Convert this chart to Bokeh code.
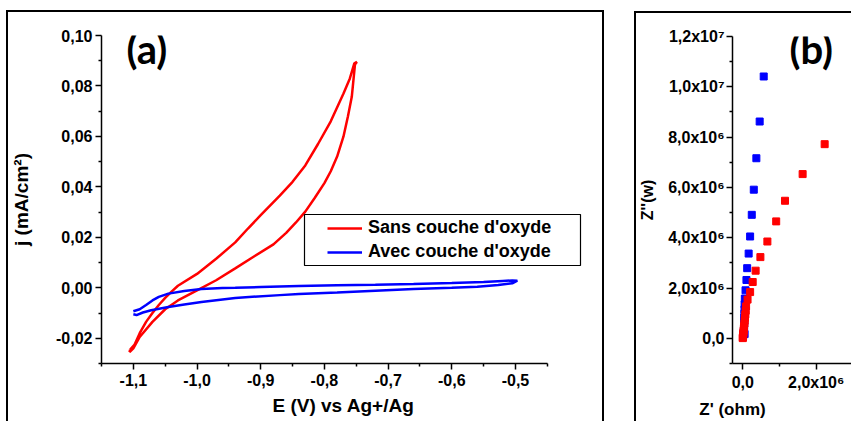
from bokeh.plotting import figure
from bokeh.models import FixedTicker, Legend, LegendItem, Label, BoxAnnotation
from bokeh.layouts import row
from bokeh.embed import file_html
from bokeh.resources import INLINE

# ---------------- Panel (a): voltammograms ----------------
sans_E = [-1.105, -1.098, -1.090, -1.080, -1.070, -1.060, -1.050, -1.040, -1.030, -1.000,
          -0.970, -0.940, -0.920, -0.900, -0.870, -0.850, -0.830, -0.810, -0.790, -0.770,
          -0.760, -0.753, -0.749,
          -0.752, -0.757, -0.763, -0.770, -0.780, -0.790, -0.800, -0.815, -0.830, -0.845,
          -0.860, -0.880, -0.910, -0.940, -0.970, -1.000, -1.030, -1.050, -1.070, -1.090,
          -1.100, -1.106, -1.105]
sans_j = [-0.0245, -0.0225, -0.0180, -0.0135, -0.0100, -0.0068, -0.0040, -0.0015, 0.0008, 0.0055,
          0.0115, 0.0180, 0.0235, 0.0288, 0.0365, 0.0420, 0.0485, 0.0570, 0.0660, 0.0770,
          0.0830, 0.0890, 0.0895,
          0.0885, 0.0757, 0.0680, 0.0600, 0.0520, 0.0462, 0.0415, 0.0357, 0.0302, 0.0258,
          0.0218, 0.0172, 0.0125, 0.0077, 0.0030, -0.0010, -0.0050, -0.0085, -0.0135, -0.0195,
          -0.0240, -0.0255, -0.0245]

avec_E = [-1.100, -1.090, -1.080, -1.070, -1.060, -1.045, -1.020, -0.993, -0.960, -0.940,
          -0.900, -0.840, -0.780, -0.720, -0.660, -0.600, -0.550, -0.520, -0.505, -0.497,
          -0.505, -0.527, -0.560, -0.600, -0.660, -0.720, -0.780, -0.840, -0.870, -0.940,
          -0.993, -1.020, -1.045, -1.072, -1.085, -1.095, -1.100]
avec_j = [-0.0093, -0.0085, -0.0068, -0.0050, -0.0036, -0.0023, -0.0013, -0.0005, -0.0001, 0.0000,
          0.0003, 0.0007, 0.0010, 0.0012, 0.0015, 0.0019, 0.0023, 0.0027, 0.0029, 0.0028,
          0.0018, 0.0011, 0.0004, 0.0000, -0.0005, -0.0012, -0.0019, -0.0025, -0.0029, -0.0040,
          -0.0056, -0.0066, -0.0076, -0.0089, -0.0098, -0.0108, -0.0105]

a_xticks = [-1.1, -1.0, -0.9, -0.8, -0.7, -0.6, -0.5]
a_xlabels = ["-1,1", "-1,0", "-0,9", "-0,8", "-0,7", "-0,6", "-0,5"]
a_xminor = [-1.15, -1.05, -0.95, -0.85, -0.75, -0.65, -0.55, -0.45]
a_yticks = [-0.02, 0.0, 0.02, 0.04, 0.06, 0.08, 0.10]
a_ylabels = ["-0,02", "0,00", "0,02", "0,04", "0,06", "0,08", "0,10"]
a_yminor = [-0.03, -0.01, 0.01, 0.03, 0.05, 0.07, 0.09]

# ---------------- Panel (b): Nyquist ----------------
blue_zr = [0.57e6, 0.46e6, 0.37e6, 0.30e6, 0.245e6, 0.20e6, 0.16e6, 0.12e6, 0.10e6, 0.075e6,
           0.056e6, 0.050e6, 0.047e6, 0.045e6, 0.042e6, 0.040e6, 0.038e6, 0.036e6, 0.034e6,
           0.030e6, 0.028e6, 0.050e6]
blue_zi = [10.41e6, 8.62e6, 7.16e6, 5.91e6, 4.91e6, 4.05e6, 3.37e6, 2.79e6, 2.32e6, 1.91e6,
           1.58e6, 1.35e6, 1.15e6, 0.98e6, 0.83e6, 0.70e6, 0.58e6, 0.47e6, 0.38e6,
           0.30e6, 0.23e6, 0.17e6]
red_zr = [2.23e6, 1.63e6, 1.15e6, 0.91e6, 0.67e6, 0.48e6, 0.35e6, 0.27e6, 0.20e6, 0.13e6,
          0.090e6, 0.080e6, 0.070e6, 0.060e6, 0.050e6, 0.045e6, 0.035e6, 0.030e6, 0.025e6,
          0.020e6, 0.015e6, 0.010e6, 0.008e6, 0.005e6, 0.002e6, 0.000e6]
red_zi = [7.72e6, 6.53e6, 5.47e6, 4.65e6, 3.85e6, 3.23e6, 2.69e6, 2.24e6, 1.84e6, 1.54e6,
          1.27e6, 1.10e6, 0.95e6, 0.82e6, 0.70e6, 0.59e6, 0.49e6, 0.40e6, 0.32e6,
          0.25e6, 0.19e6, 0.14e6, 0.10e6, 0.06e6, 0.03e6, 0.01e6]

b_xticks = [0.0, 2.0e6]
b_xlabels = ["0,0", "2,0x10\u2076"]
b_xminor = [-1.0e6, 1.0e6, 3.0e6]
b_yticks = [0.0, 2.0e6, 4.0e6, 6.0e6, 8.0e6, 1.0e7, 1.2e7]
b_ylabels = ["0,0", "2,0x10\u2076", "4,0x10\u2076", "6,0x10\u2076", "8,0x10\u2076",
             "1,0x10\u2077", "1,2x10\u2077"]
b_yminor = [-1.0e6, 1.0e6, 3.0e6, 5.0e6, 7.0e6, 9.0e6, 1.1e7]

FONT = "Liberation Sans"
RED = "#ff0000"
BLUE = "#0000ff"


def style_axis(ax, ticks, minor, labels, tick_size, label_size, lab_standoff, axlab_standoff):
    ax.ticker = FixedTicker(ticks=ticks, minor_ticks=minor)
    ax.major_label_overrides = dict(zip(ticks, labels))
    ax.axis_line_width = 1.5
    ax.axis_line_color = "black"
    ax.major_tick_line_width = 1.5
    ax.minor_tick_line_width = 1.5
    ax.major_tick_out = 6
    ax.major_tick_in = 0
    ax.minor_tick_out = 3
    ax.minor_tick_in = 0
    ax.major_label_text_font = FONT
    ax.major_label_text_font_style = "bold"
    ax.major_label_text_font_size = tick_size
    ax.major_label_text_color = "black"
    ax.major_label_standoff = lab_standoff
    ax.axis_label_text_font = FONT
    ax.axis_label_text_font_style = "bold"
    ax.axis_label_text_font_size = label_size
    ax.axis_label_text_color = "black"
    ax.axis_label_standoff = axlab_standoff


# ---------- figure (a) ----------
pa = figure(width=598, height=411, x_range=(-1.15, -0.39), y_range=(-0.03, 0.10),
            output_backend="svg", toolbar_location=None,
            min_border_left=90, min_border_right=21, min_border_top=23, min_border_bottom=60)
pa.margin = (10, 0, 0, 6)
pa.styles = {"border-top": "2px solid black", "border-left": "2px solid black",
             "border-right": "2px solid black", "box-sizing": "border-box"}
pa.outline_line_color = None
pa.xgrid.visible = False
pa.ygrid.visible = False

r_sans = pa.line(sans_E, sans_j, line_color=RED, line_width=2.5)
r_avec = pa.line(avec_E, avec_j, line_color=BLUE, line_width=2.5)

pa.xaxis.axis_label = "E (V) vs Ag+/Ag"
pa.yaxis.axis_label = "j (mA/cm\u00b2)"
style_axis(pa.xaxis[0], a_xticks, a_xminor, a_xlabels, "16px", "19px", 4, 6)
style_axis(pa.yaxis[0], a_yticks, a_yminor, a_ylabels, "16px", "19px", 3, 21)
pa.xaxis[0].bounds = (-1.15, -0.45)

# legend frame (screen units, relative to the plot frame)
pa.add_layout(BoxAnnotation(left=203, right=479, bottom=98, top=149,
                            left_units="screen", right_units="screen",
                            bottom_units="screen", top_units="screen",
                            fill_color="white", fill_alpha=1.0,
                            line_color="black", line_width=1.2, line_alpha=1.0))
leg = Legend(items=[LegendItem(label="Sans couche d'oxyde", renderers=[r_sans]),
                    LegendItem(label="Avec couche d'oxyde", renderers=[r_avec])],
             location=(226, 101), border_line_color=None, background_fill_color=None,
             background_fill_alpha=0, padding=0, margin=0, spacing=3,
             glyph_width=35, glyph_height=20, label_height=20, label_standoff=6,
             label_text_font=FONT, label_text_font_style="bold", label_text_font_size="18px",
             label_text_color="black")
pa.add_layout(leg, "center")

pa.add_layout(Label(x=25, y=315, x_units="screen", y_units="screen", text="(a)",
                    text_font="Lato", text_font_style="bold", text_font_size="40px",
                    text_baseline="middle", text_align="left", text_color="black"))

# ---------- figure (b) ----------
pb = figure(width=219, height=410, x_range=(-0.28e6, 3.07e6), y_range=(-1.0e6, 1.2e7),
            output_backend="svg", toolbar_location=None,
            min_border_left=96, min_border_right=0, min_border_top=20, min_border_bottom=59)
pb.margin = (11, 0, 0, 30)
pb.styles = {"border-top": "2px solid black", "border-left": "2px solid black",
             "box-sizing": "border-box"}
pb.outline_line_color = None
pb.xgrid.visible = False
pb.ygrid.visible = False

pb.scatter(blue_zr, blue_zi, marker="square", size=7, fill_color=BLUE, line_color=BLUE)
pb.scatter(red_zr, red_zi, marker="square", size=7, fill_color=RED, line_color=RED)

pb.xaxis.axis_label = "Z' (ohm)"
pb.yaxis.axis_label = "Z''(w)"
style_axis(pb.xaxis[0], b_xticks, b_xminor, b_xlabels, "16px", "17px", 4, 6)
style_axis(pb.yaxis[0], b_yticks, b_yminor, b_ylabels, "16px", "16px", 2, 9)
try:
    pb.xaxis[0].axis_label_align = "start"
except Exception:
    pass

pb.add_layout(Label(x=57, y=315, x_units="screen", y_units="screen", text="(b)",
                    text_font="Lato", text_font_style="bold", text_font_size="40px",
                    text_baseline="middle", text_align="left", text_color="black"))

layout = row(pa, pb)
open("out.html", "w").write(file_html(layout, INLINE))
